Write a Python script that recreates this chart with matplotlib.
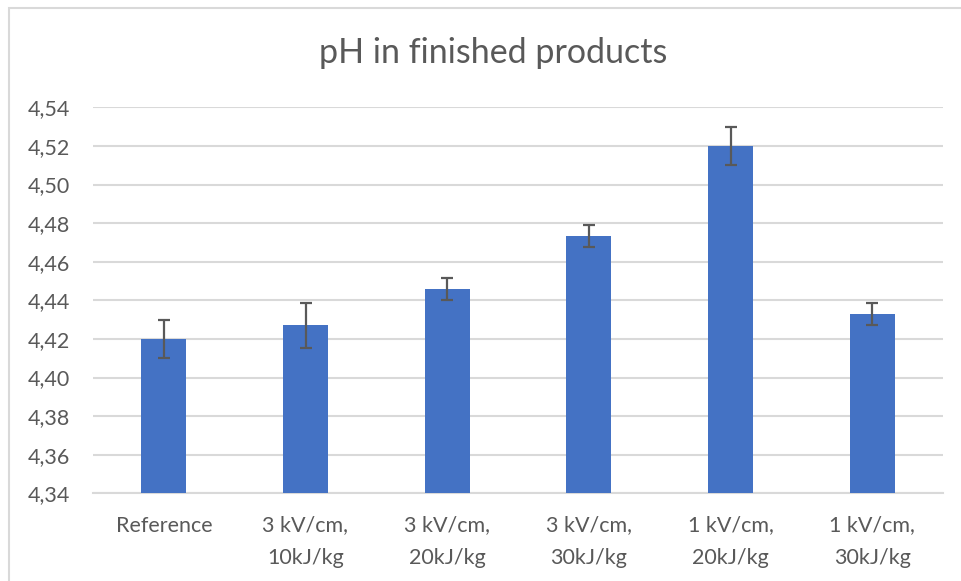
import matplotlib.pyplot as plt
from matplotlib.patches import Rectangle

categories = ["Reference", "3 kV/cm,\n10kJ/kg", "3 kV/cm,\n20kJ/kg",
              "3 kV/cm,\n30kJ/kg", "1 kV/cm,\n20kJ/kg", "1 kV/cm,\n30kJ/kg"]
ph_values = [4.420, 4.427, 4.446, 4.4735, 4.520, 4.433]
ph_errors = [0.010, 0.0116, 0.0057, 0.0057, 0.010, 0.0058]
y_ticks = [4.34, 4.36, 4.38, 4.40, 4.42, 4.44, 4.46, 4.48, 4.50, 4.52, 4.54]

plt.rcParams['font.family'] = ['Lato', 'DejaVu Sans']
text_color = '#595959'

fig = plt.figure(figsize=(9.61, 5.81), dpi=100)
ax = fig.add_axes([93 / 961, 1 - 493.3 / 581, 850 / 961, 386 / 581])

x = range(len(categories))
ax.bar(x, ph_values, width=0.317, color='#4472C4', zorder=3,
       yerr=ph_errors, error_kw=dict(ecolor='#595959', elinewidth=1.6,
                                     capsize=4.5, capthick=1.6, zorder=4))

ax.set_xlim(-0.5, len(categories) - 0.5)
ax.set_ylim(4.34, 4.54)
ax.set_yticks(y_ticks)
ax.set_yticklabels([f"{v:.2f}".replace('.', ',') for v in y_ticks])
ax.set_xticks(list(x))
ax.set_xticklabels(categories, linespacing=1.75)
ax.tick_params(axis='both', length=0, labelsize=15.5, colors=text_color)
ax.tick_params(axis='y', pad=16.5)
ax.tick_params(axis='x', pad=16)
ax.grid(axis='y', color='#D9D9D9', linewidth=1.5, zorder=0)
for side in ['top', 'right', 'left']:
    ax.spines[side].set_visible(False)
ax.spines['bottom'].set_color('#D9D9D9')
ax.spines['bottom'].set_linewidth(1.5)

fig.text(493.5 / 961, 1 - 53 / 581, "pH in finished products", ha='center',
         va='center', fontsize=24.5, color=text_color)

# chart border (cut off at right and bottom)
fig.patches.append(Rectangle((9 / 961, -0.05), 1.1, 1 - 8 / 581 + 0.05,
                             transform=fig.transFigure, fill=False,
                             edgecolor='#D9D9D9', linewidth=1.5))

plt.savefig("out.png", dpi=100)
